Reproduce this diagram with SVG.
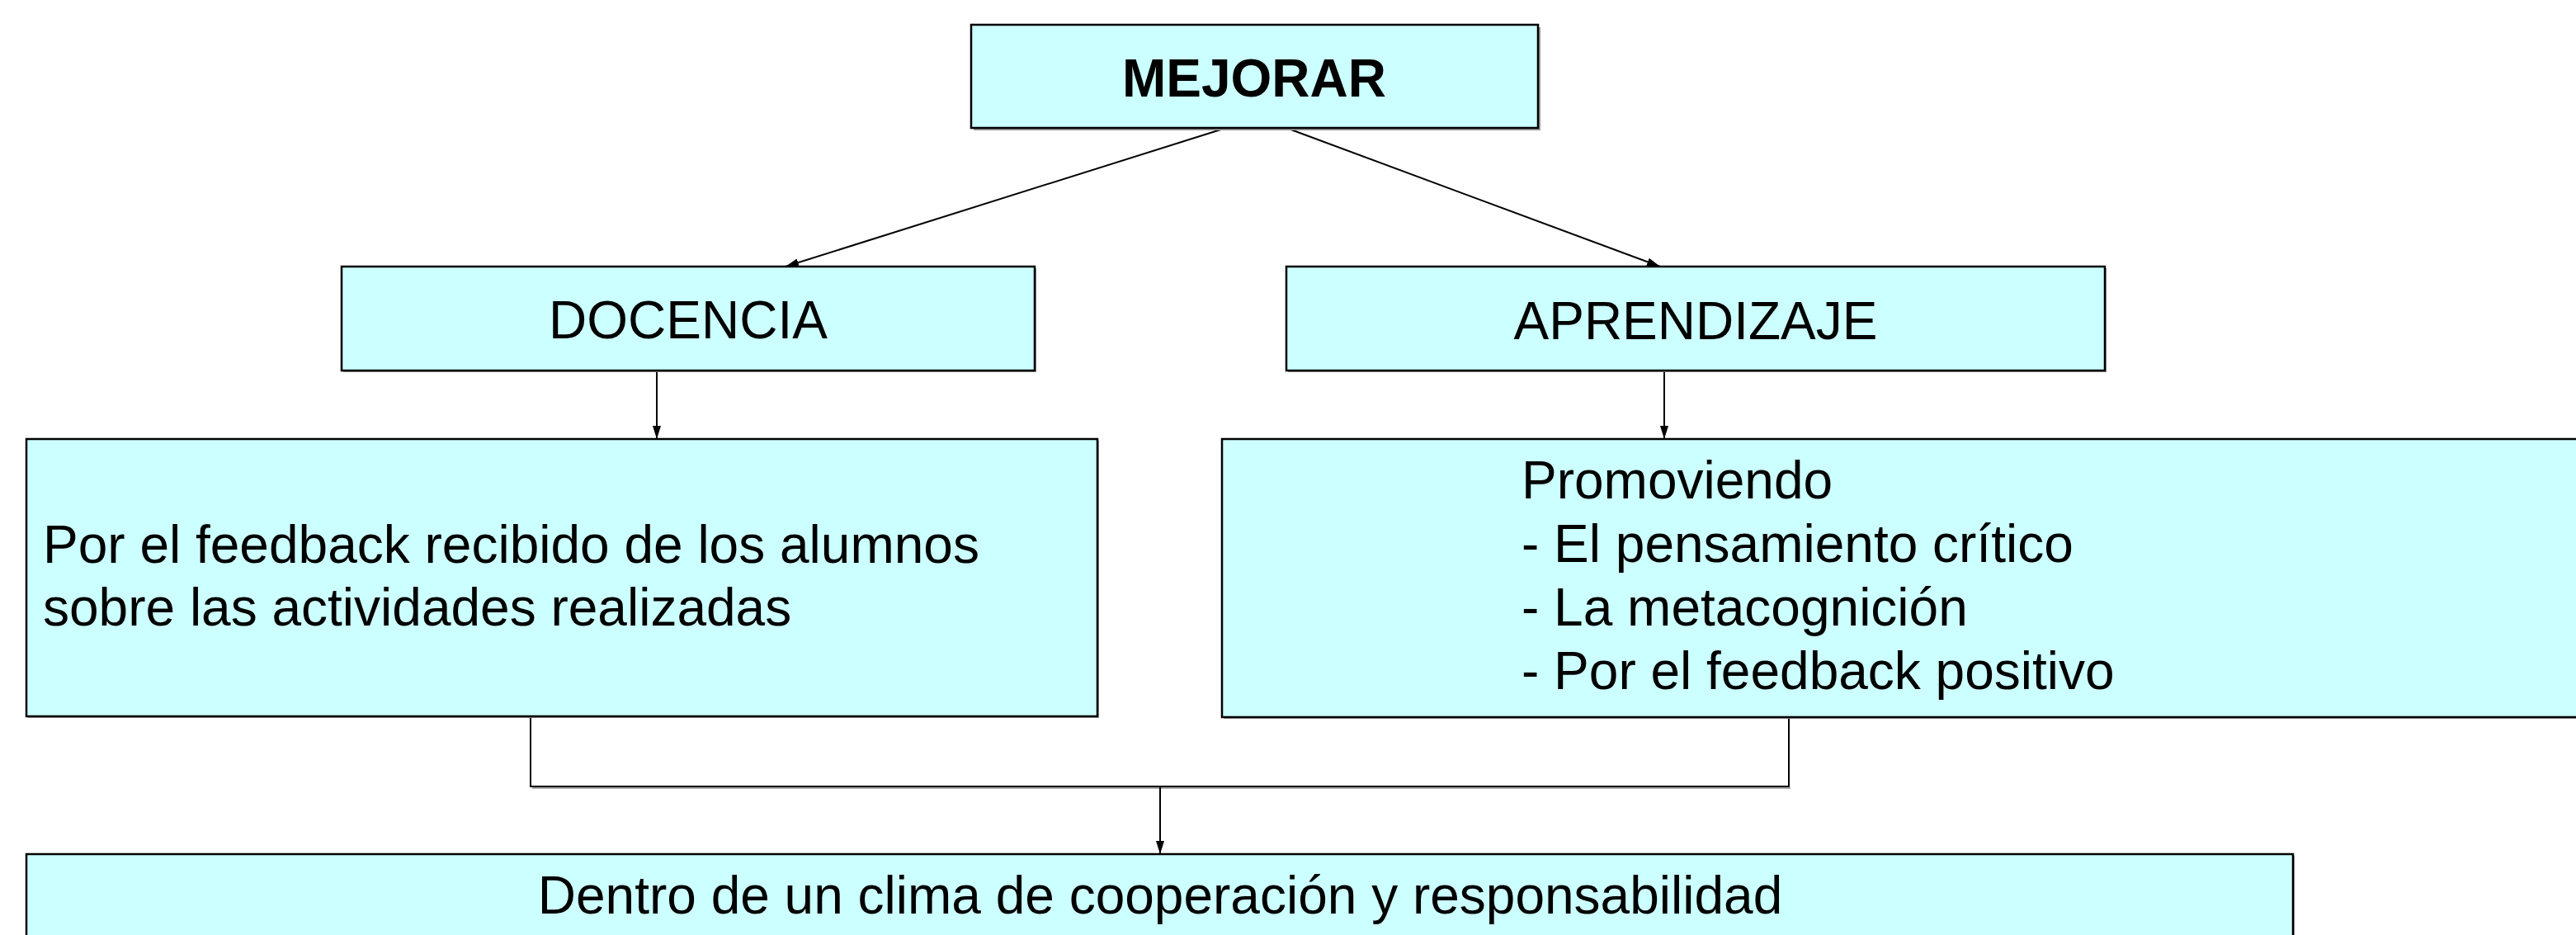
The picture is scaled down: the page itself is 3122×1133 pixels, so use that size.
<svg xmlns="http://www.w3.org/2000/svg" width="3122" height="1133" viewBox="0 0 3122 1133">
<defs>
<style>
.box{fill:#CCFFFF;stroke:#000;stroke-width:2.5}
.shadow{fill:#9a9a9a}
.t{font-family:"Liberation Sans",Arial,sans-serif;font-size:64px;fill:#000}
.b{font-weight:bold}
.c{stroke:#000;stroke-width:2;fill:none}
.cs{stroke:#aaa;stroke-width:2;fill:none}
</style>
<marker id="arr" viewBox="0 0 16 10" refX="16" refY="5" markerWidth="16" markerHeight="10" markerUnits="userSpaceOnUse" orient="auto">
<path d="M0,0 L16,5 L0,10 Z" fill="#000"/>
</marker>
</defs>
<rect width="3122" height="1133" fill="#fff"/>
<g id="connectors">
<line class="c" x1="1486" y1="155" x2="952" y2="323" marker-end="url(#arr)"/>
<line class="c" x1="1559" y1="155" x2="2012" y2="323" marker-end="url(#arr)"/>
<line class="c" x1="796" y1="449" x2="796" y2="532" marker-end="url(#arr)"/>
<line class="c" x1="2017" y1="449" x2="2017" y2="532" marker-end="url(#arr)"/>
<polyline class="cs" points="645,955 2170,955"/>
<polyline class="c" points="643,868 643,953 2168,953 2168,868"/>
<line class="c" x1="1406" y1="953" x2="1406" y2="1035" marker-end="url(#arr)"/>
</g>
<g id="node-mejorar">
<rect class="shadow" x="1180" y="33" width="687" height="125"/>
<rect class="box" x="1177" y="30" width="687" height="125"/>
<text class="t b" x="1520" y="117" text-anchor="middle">MEJORAR</text>
</g>
<g id="node-docencia">
<rect class="shadow" x="416" y="325" width="840" height="126"/>
<rect class="box" x="414" y="323" width="840" height="126"/>
<text class="t" x="834" y="410" text-anchor="middle">DOCENCIA</text>
</g>
<g id="node-aprendizaje">
<rect class="shadow" x="1561" y="325" width="992" height="126"/>
<rect class="box" x="1559" y="323" width="992" height="126"/>
<text class="t" x="2055" y="411" text-anchor="middle">APRENDIZAJE</text>
</g>
<g id="node-feedback">
<rect class="shadow" x="34" y="534" width="1298" height="336"/>
<rect class="box" x="32" y="532" width="1298" height="336"/>
<text class="t" x="52" y="682">Por el feedback recibido de los alumnos</text>
<text class="t" x="52" y="758">sobre las actividades realizadas</text>
</g>
<g id="node-promoviendo">
<rect class="shadow" x="1483" y="534" width="1700" height="337"/>
<rect class="box" x="1481" y="532" width="1700" height="337"/>
<text class="t" x="1844" y="604">Promoviendo</text>
<text class="t" x="1844" y="681">- El pensamiento crítico</text>
<text class="t" x="1844" y="758">- La metacognición</text>
<text class="t" x="1844" y="835">- Por el feedback positivo</text>
</g>
<g id="node-clima">
<rect class="shadow" x="34" y="1037" width="2747" height="130"/>
<rect class="box" x="32" y="1035" width="2747" height="130"/>
<text class="t" x="1406" y="1107" text-anchor="middle">Dentro de un clima de cooperación y responsabilidad</text>
</g>
</svg>
